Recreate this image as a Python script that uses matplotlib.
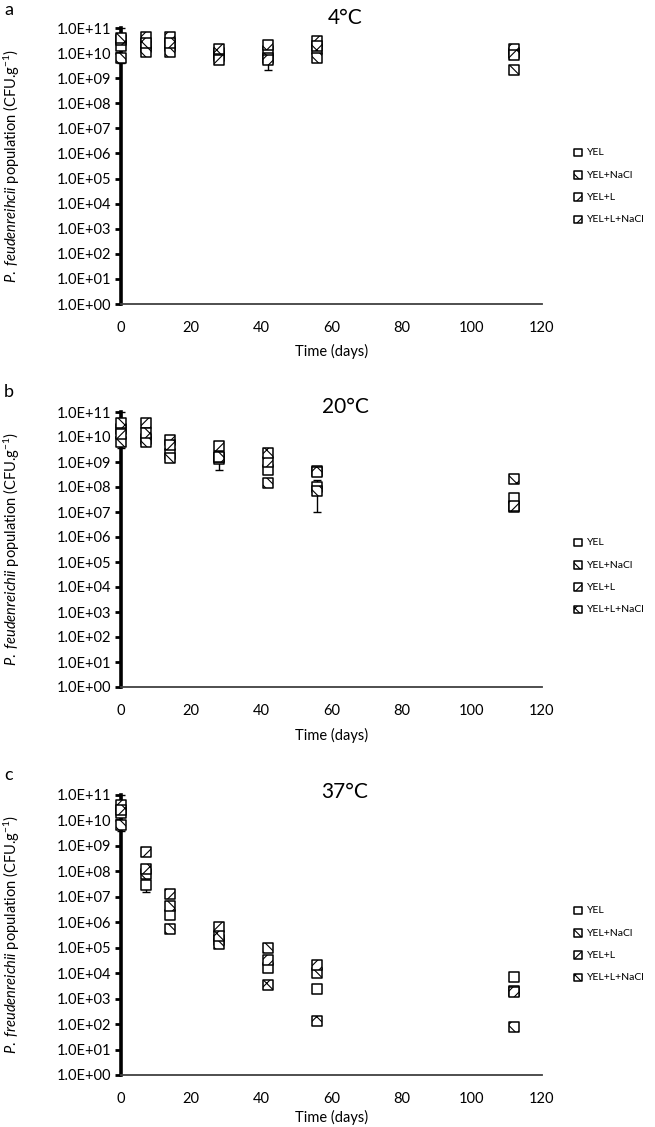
import matplotlib
matplotlib.use('Agg')
import matplotlib.pyplot as plt

plt.rcParams['font.family'] = ['Lato', 'DejaVu Sans']
plt.rcParams['mathtext.fontset'] = 'custom'
plt.rcParams['mathtext.rm'] = 'Lato'
plt.rcParams['mathtext.it'] = 'Lato:italic'
plt.rcParams['hatch.linewidth'] = 0.8

days = [0, 7, 14, 28, 42, 56, 112]
series = ['YEL', 'YEL+NaCl', 'YEL+L', 'YEL+L+NaCl']

# 4 C
a_yel = [1.9e10, 1.8e10, 2.0e10, 1.0e10, 1.2e10, 1.5e10, 1.0e10]
a_nacl = [6.3e9, 1.15e10, 1.15e10, 8.0e9, 6.3e9, 6.3e9, 2.1e9]
a_l = [3.2e10, 4.5e10, 4.5e10, 5.4e9, 5.4e9, 2.9e10, 1.5e10]
a_lnacl = [4.1e10, 2.5e10, 2.5e10, 1.5e10, 2.1e10, 2.0e10, 8.5e9]
a_err_yel = [5e9, 4e9, 4e9, 2e9, 2e9, 3e9, 2e9]
a_err_nacl = [1e9, 2e9, 2e9, 1e9, 4.2e9, 1e9, 5e8]
a_err_l = [5e9, 5e9, 5e9, 1e9, 1e9, 5e9, 3e9]
a_err_lnacl = [5.5e10, 5e9, 5e9, 3e9, 4e9, 4e9, 2e9]

# 20 C
b_yel = [2.0e10, 8.0e9, 2.0e9, 1.3e9, 5.0e8, 1.0e8, 3.6e7]
b_nacl = [6.6e9, 6.6e9, 1.4e9, 1.6e9, 1.5e8, 6.8e7, 1.6e7]
b_l = [1.3e10, 3.6e10, 7.8e9, 4.2e9, 1.0e9, 4.5e8, 1.7e7]
b_lnacl = [3.6e10, 1.5e10, 4.9e9, 1.6e9, 2.2e9, 4.0e8, 2.1e8]
b_err_yel = [4e9, 2e9, 5e8, 8e8, 1e8, 9e7, 8e6]
b_err_nacl = [1e9, 1e9, 3e8, 3e8, 3e7, 1e7, 3e6]
b_err_l = [3e9, 8e9, 2e9, 1e9, 2e8, 1e8, 3e6]
b_err_lnacl = [6e10, 3e9, 1e9, 3e8, 5e8, 1e8, 4e7]

# 37 C
c_yel = [2.0e10, 3.0e7, 1.9e6, 2.0e5, 1.6e4, 2.3e3, 7.4e3]
c_nacl = [6.8e9, 8.0e7, 5.4e5, 1.4e5, 1.0e5, 1.0e4, 2.0e3]
c_l = [4.0e10, 5.8e8, 1.26e7, 6.8e5, 3.4e4, 2.1e4, 1.9e3]
c_lnacl = [2.5e10, 1.2e8, 4.3e6, 3.0e5, 3.4e3, 1.35e2, 7.4e1]
c_err_yel = [4e9, 1.5e7, 4e5, 4e4, 3e3, 4e2, 1e3]
c_err_nacl = [1e9, 1e7, 1e5, 3e4, 2e4, 2e3, 3e2]
c_err_l = [6e10, 1e8, 2e6, 1e5, 5e3, 4e3, 3e2]
c_err_lnacl = [5e9, 2e7, 8e5, 5e4, 5e2, 2e1, 1e1]

hatches = ['', '\\\\\\', '///', 'xx']

W, H = 655, 1127
fig = plt.figure(figsize=(W / 100, H / 100), dpi=100)

panels = [
    dict(vals=[a_yel, a_nacl, a_l, a_lnacl], errs=[a_err_yel, a_err_nacl, a_err_l, a_err_lnacl],
         top=28, bottom=304, title='4°C', letter='a', ty=18, ly=10,
         ylabel=r'$\mathit{P.\ feudenreihcii}$ population (CFU.g$^{-1}$)', leg=148, xl=47),
    dict(vals=[b_yel, b_nacl, b_l, b_lnacl], errs=[b_err_yel, b_err_nacl, b_err_l, b_err_lnacl],
         top=412, bottom=687, title='20°C', letter='b', ty=407, ly=392,
         ylabel=r'$\mathit{P.\ feudenreichii}$ population (CFU.g$^{-1}$)', leg=538, xl=48),
    dict(vals=[c_yel, c_nacl, c_l, c_lnacl], errs=[c_err_yel, c_err_nacl, c_err_l, c_err_lnacl],
         top=795, bottom=1075, title='37°C', letter='c', ty=792, ly=775,
         ylabel=r'$\mathit{P.\ freudenreichii}$ population (CFU.g$^{-1}$)', leg=906, xl=42),
]

left, right = 121, 542
for p in panels:
    ax = fig.add_axes([left / W, 1 - p['bottom'] / H, (right - left) / W, (p['bottom'] - p['top']) / H])
    ax.set_yscale('log')
    ax.set_ylim(1, 1e11)
    ax.set_xlim(0, 120)
    for i, (v, e) in enumerate(zip(p['vals'], p['errs'])):
        # keep the lower bar above zero on the log axis
        low = [min(ei, 0.9 * vi) for vi, ei in zip(v, e)]
        ax.errorbar(days, v, yerr=[low, e], fmt='none', ecolor='black', elinewidth=1,
                    capsize=3, capthick=1, zorder=2, clip_on=False)
        ax.scatter(days, v, s=52, marker='s', facecolor='white', edgecolor='black',
                   linewidths=1.1, hatch=hatches[i], zorder=3 + i, clip_on=False,
                   label=series[i])
    ax.set_yticks([10.0 ** k for k in range(12)])
    ax.set_yticklabels(['1.0E+%02d' % k for k in range(12)])
    ax.minorticks_off()
    ax.set_xticks(range(0, 121, 20))
    ax.tick_params(axis='y', length=4, width=2, labelsize=10.5, pad=3)
    ax.tick_params(axis='x', length=0, labelsize=10.5, pad=12)
    for s in ['top', 'right']:
        ax.spines[s].set_visible(False)
    ax.spines['left'].set_linewidth(2.6)
    ax.spines['bottom'].set_linewidth(1.3)
    ax.spines['bottom'].set_color('#404040')
    ax.set_xlabel('Time (days)', fontsize=10.5, va='center')
    ax.xaxis.set_label_coords(0.5, -p['xl'] / (p['bottom'] - p['top']))
    ax.set_ylabel(p['ylabel'], fontsize=10.5)
    ax.yaxis.set_label_coords(-(left - 22) / (right - left), 0.5)
    fig.text(345 / W, 1 - p['ty'] / H, p['title'], ha='center', va='center', fontsize=15)
    fig.text(4 / W, 1 - p['ly'] / H, p['letter'], ha='left', va='center', fontsize=13)
    ax.legend(loc='upper left', bbox_to_anchor=(574 / W, 1 - p['leg'] / H),
              bbox_transform=fig.transFigure, frameon=False, fontsize=7.5,
              markerscale=0.75, handlelength=0.8, handletextpad=0.4,
              labelspacing=1.25, borderpad=0, borderaxespad=0)

fig.savefig('out.png', dpi=100)
